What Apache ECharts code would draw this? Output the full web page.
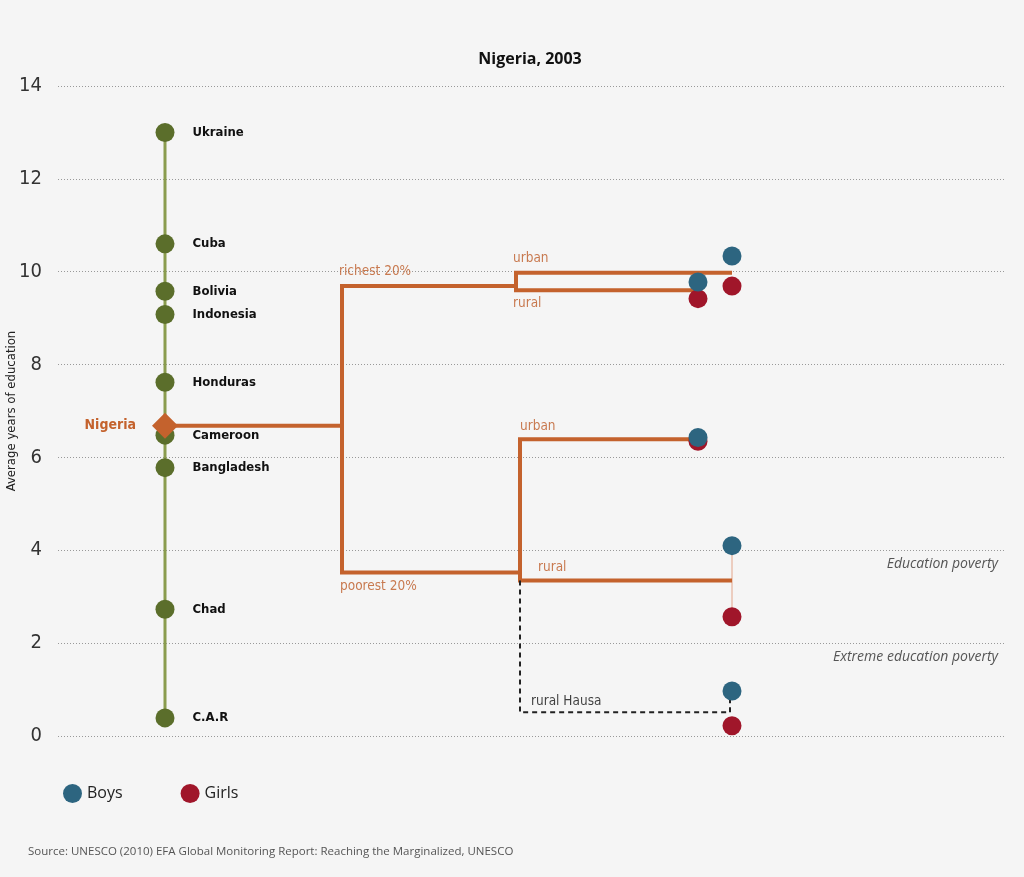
<!DOCTYPE html>
<html>
<head>
<meta charset="utf-8">
<script src="https://cdn.jsdelivr.net/npm/echarts@6/dist/echarts.min.js"></script>
<style>
html,body{margin:0;padding:0;background:#f5f5f5;}
#c{width:1024px;height:877px;}
</style>
</head>
<body>
<div id="c"></div>
<script>
// ---------- data ----------
const yTicks = [0, 2, 4, 6, 8, 10, 12, 14];
const countries = ['Ukraine', 'Cuba', 'Bolivia', 'Indonesia', 'Honduras', 'Cameroon', 'Bangladesh', 'Chad', 'C.A.R'];
const countryValues = [13.0, 10.6, 9.58, 9.08, 7.62, 6.48, 5.78, 2.73, 0.39];
const focusCountry = 'Nigeria';
const focusValue = 6.68;
const wealthGroups = ['richest 20%', 'poorest 20%'];
const wealthValues = [9.69, 3.52];
const subGroups = ['urban', 'rural', 'urban', 'rural', 'rural Hausa'];
const subParent = [0, 0, 1, 1, 1];
const subValues = [9.98, 9.6, 6.39, 3.35, 0.51];
const boysValues = [10.34, 9.78, 6.43, 4.1, 0.97];
const girlsValues = [9.69, 9.42, 6.35, 2.57, 0.22];
const povertyLines = [4, 2];
const povertyNames = ['Education poverty', 'Extreme education poverty'];

// ---------- layout (x columns, in plot units) ----------
const colCountry = 107;
const colWealth = 284;
const colSub = [458, 462];
const colDots = [674, 640, 640, 674, 674];

const ORANGE = '#c4622d';
const COND = "'Liberation Sans Narrow','DejaVu Sans Condensed','Roboto Condensed',sans-serif";
const HUM = "'Open Sans','Noto Sans',sans-serif";

const series = [];

// country stem (also carries the poverty annotations)
series.push({
  type: 'line', silent: true, symbol: 'none', z: 2,
  lineStyle: { color: '#8a9c4e', width: 3 },
  data: [[colCountry, Math.max(...countryValues)], [colCountry, Math.min(...countryValues)]],
  markLine: {
    symbol: 'none', silent: true,
    lineStyle: { color: 'rgba(0,0,0,0)', width: 0 },
    label: {
      show: true, position: 'insideEndBottom', distance: [7, 7],
      formatter: p => p.name,
      color: '#555', fontStyle: 'italic', fontSize: 14, fontFamily: HUM
    },
    data: povertyLines.map((v, i) => ({ yAxis: v, name: povertyNames[i] }))
  }
});

// tree
const treeLine = (pts, extra) => Object.assign({
  type: 'line', silent: true, symbol: 'none', z: 3,
  lineStyle: { color: ORANGE, width: 4, cap: 'butt', join: 'miter' },
  data: pts
}, extra || {});

series.push(treeLine([[colCountry, focusValue], [colWealth, focusValue]]));
series.push(treeLine([[colSub[0], wealthValues[0]], [colWealth, wealthValues[0]], [colWealth, wealthValues[1]], [colSub[1], wealthValues[1]]]));
for (let g = 0; g < 2; g++) {
  const idx = subParent.map((p, i) => p === g ? i : -1).filter(i => i >= 0 && subGroups[i] !== 'rural Hausa');
  const u = idx[0], r = idx[1];
  series.push(treeLine([[colDots[u], subValues[u]], [colSub[g], subValues[u]], [colSub[g], subValues[r]], [colDots[r], subValues[r]]]));
}
{
  const h = subGroups.indexOf('rural Hausa');
  const r = 3;
  series.push({
    type: 'line', silent: true, symbol: 'none', z: 3,
    lineStyle: { color: '#222', width: 2, type: [5, 4] },
    data: [[colSub[1], subValues[r]], [colSub[1], subValues[h]], [colDots[h] - 2, subValues[h]], [colDots[h] - 2, (boysValues[h] + girlsValues[h]) / 2 + 0.25]]
  });
}
series.push({
  type: 'line', silent: true, symbol: 'none', z: 2,
  lineStyle: { color: '#e3a58a', width: 1 },
  data: [[colDots[3], boysValues[3]], [colDots[3], girlsValues[3]]]
});

// country dots
series.push({
  type: 'scatter', silent: true, z: 5,
  symbolSize: 19,
  itemStyle: { color: '#5b6e2b', opacity: 1 },
  label: {
    show: true, position: 'right', distance: 18,
    formatter: p => p.name, color: '#111', fontSize: 13, fontWeight: 'bold', fontFamily: COND
  },
  data: countries.map((c, i) => ({ name: c, value: [colCountry, countryValues[i]] }))
});
// Nigeria diamond
series.push({
  type: 'scatter', silent: true, z: 6,
  symbol: 'diamond', symbolSize: [26, 26],
  itemStyle: { color: ORANGE, opacity: 1 },
  label: {
    show: true, position: 'left', distance: 16,
    formatter: p => p.name, color: ORANGE, fontSize: 14, fontWeight: 'bold', fontFamily: COND
  },
  data: [{ name: focusCountry, value: [colCountry, focusValue] }]
});

// tree labels
const lbl = (txt, x, y, off, color) => ({
  name: txt, value: [x, y],
  label: { offset: off, color: color || '#bd5a26' }
});
const treeLabels = [
  lbl(wealthGroups[0], colWealth, wealthValues[0], [-3, -15]),
  lbl(wealthGroups[1], colWealth, wealthValues[1], [-2, 14]),
  lbl(subGroups[0], colSub[0], subValues[0], [-3, -14]),
  lbl(subGroups[1], colSub[0], subValues[1], [-3, 13]),
  lbl(subGroups[2], colSub[1], subValues[2], [0, -13]),
  lbl(subGroups[3], colSub[1], subValues[3], [18, -13]),
  lbl(subGroups[4], colSub[1], subValues[4], [11, -11], '#111')
];
series.push({
  type: 'scatter', silent: true, z: 7, symbolSize: 0,
  label: {
    show: true, position: 'right', distance: 0,
    formatter: p => p.name, fontSize: 13.5, fontFamily: COND
  },
  data: treeLabels
});

// boys & girls
series.push({
  name: 'Girls', type: 'scatter', silent: true, z: 8, symbolSize: 19,
  itemStyle: { color: '#a0162a', opacity: 1 },
  data: girlsValues.map((v, i) => [colDots[i], v])
});
series.push({
  name: 'Boys', type: 'scatter', silent: true, z: 9, symbolSize: 19,
  itemStyle: { color: '#2d6580', opacity: 1 },
  data: boysValues.map((v, i) => [colDots[i], v])
});

const chart = echarts.init(document.getElementById('c'));
chart.setOption({
  backgroundColor: '#f5f5f5',
  animation: false,
  title: {
    text: 'Nigeria, 2003', left: 525, top: 46, textAlign: 'center',
    textStyle: { fontSize: 16, fontWeight: 'bold', color: '#111', fontFamily: HUM }
  },
  legend: {
    data: ['Boys', 'Girls'], left: 58, top: 779, icon: 'circle',
    itemWidth: 19, itemHeight: 19, itemGap: 58,
    textStyle: { fontSize: 16, color: '#222', fontFamily: HUM }
  },
  graphic: [{
    type: 'text', left: 28, top: 846,
    style: { text: 'Source: UNESCO (2010) EFA Global Monitoring Report: Reaching the Marginalized, UNESCO', fontSize: 11.5, fill: '#555', fontFamily: HUM }
  }],
  grid: { left: 58, right: 19, top: 86, bottom: 141, outerBoundsMode: 'none', containLabel: false },
  xAxis: {
    type: 'value', min: 0, max: 947, show: false
  },
  yAxis: {
    type: 'value', min: yTicks[0], max: yTicks[yTicks.length - 1], interval: 2,
    name: 'Average years of education', nameLocation: 'middle', nameGap: 40, nameMoveOverlap: false,
    nameTextStyle: { fontSize: 13, color: '#222', fontFamily: COND },
    axisLine: { show: false }, axisTick: { show: false },
    axisLabel: { fontSize: 20, color: '#333', margin: 16, fontFamily: COND },
    splitLine: { lineStyle: { color: '#999', type: [1, 2], width: 1 } }
  },
  series: series
});
</script>
</body>
</html>
